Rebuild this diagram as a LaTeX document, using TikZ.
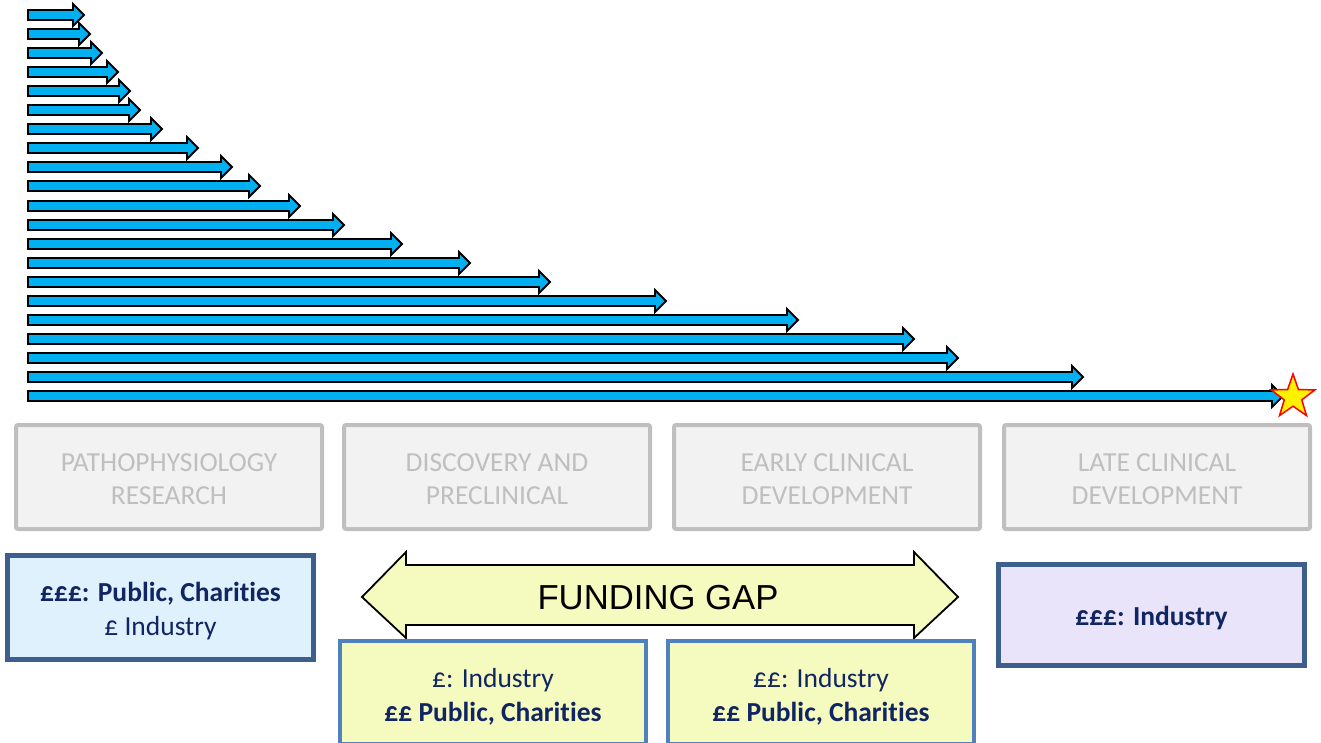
\documentclass[tikz,border=0pt]{standalone}
\usepackage{fontspec}
\setmainfont{Carlito}[Ligatures=NoCommon]
\newfontfamily\gapfont{Liberation Sans}
\usetikzlibrary{shapes.geometric}

\definecolor{arrowblue}{RGB}{0,176,240}
\definecolor{stagefill}{RGB}{242,242,242}
\definecolor{stagegray}{RGB}{191,191,191}
\definecolor{navytext}{RGB}{16,37,98}
\definecolor{darkframe}{RGB}{60,95,140}
\definecolor{lightframe}{RGB}{79,129,189}
\definecolor{paleblue}{RGB}{222,241,252}
\definecolor{paleyellow}{RGB}{245,250,190}
\definecolor{palelilac}{RGB}{234,228,250}

\begin{document}
\begin{tikzpicture}[x=1pt,y=-1pt,
  leadarrow/.style={draw=black,line width=1.8pt,fill=arrowblue,line join=miter},
  stage/.style={draw=stagegray,line width=4pt,fill=stagefill,rounded corners=2pt,
    minimum width=306pt,minimum height=104pt,inner sep=0pt,align=center,
    text height=55.8pt,text depth=0pt,
    text=stagegray,font=\fontsize{27.5}{33}\selectfont},
  fund/.style={line width=4.5pt,minimum width=306pt,inner sep=0pt,align=center,
    text=navytext,font=\fontsize{27.5}{34}\selectfont},
  fundA/.style={fund,draw=darkframe,fill=paleblue,minimum height=104pt,
    text height=56.8pt,text depth=0pt},
  fundB/.style={fund,draw=lightframe,fill=paleyellow,minimum height=103pt,
    text height=58.8pt,text depth=0pt},
  fundD/.style={fund,draw=darkframe,fill=palelilac,minimum height=101pt,
    text height=21.8pt,text depth=0pt}]
  \useasboundingbox (0,0) rectangle (1321,743);
  \foreach \y/\tip in {15/84,34/90,53/102,72/118,91/130,110/140,129/162,148/198,
      167/232,186/260,206/300,225/344,244/402,263/470,282/550,301/666,320/798,
      339/914,358/958,377/1083,396/1283}
    \draw[leadarrow] (28,\y-5) -- (\tip-11,\y-5) -- (\tip-11,\y-11) -- (\tip,\y)
      -- (\tip-11,\y+11) -- (\tip-11,\y+5) -- (28,\y+5) -- cycle;
  \node (goal) [star,star points=5,star point ratio=2.5,minimum size=46pt,inner sep=0pt,
    draw=red,line width=1.5pt,fill=yellow] at (1293,397) {};
  \node (pathoph) [stage] at (169,477) {PATHOPHYSIOLOGY\\RESEARCH};
  \node (discov) [stage] at (497,477) {DISCOVERY AND\\PRECLINICAL};
  \node (earlyclin) [stage] at (827,477) {EARLY CLINICAL\\DEVELOPMENT};
  \node (lateclin) [stage] at (1157,477) {LATE CLINICAL\\DEVELOPMENT};
  \draw [black,line width=1.8pt,fill=paleyellow] (362,597) -- (406,552) -- (406,565)
    -- (914,565) -- (914,552) -- (958,597) -- (914,638) -- (914,625) -- (406,625)
    -- (406,638) -- cycle;
  \node (gap) at (658,598) {\gapfont\fontsize{34.7}{40}\selectfont FUNDING GAP};
  \node (fundpath) [fundA] at (160.5,607.5) {\textbf{£££: Public, Charities}\\£ Industry};
  \node (funddisc) [fundB] at (493,692.5) {£: Industry\\\textbf{££ Public, Charities}};
  \node (fundearly) [fundB] at (821,692.5) {££: Industry\\\textbf{££ Public, Charities}};
  \node (fundlate) [fundD] at (1151.5,615) {\textbf{£££: Industry}};
\end{tikzpicture}
\end{document}
